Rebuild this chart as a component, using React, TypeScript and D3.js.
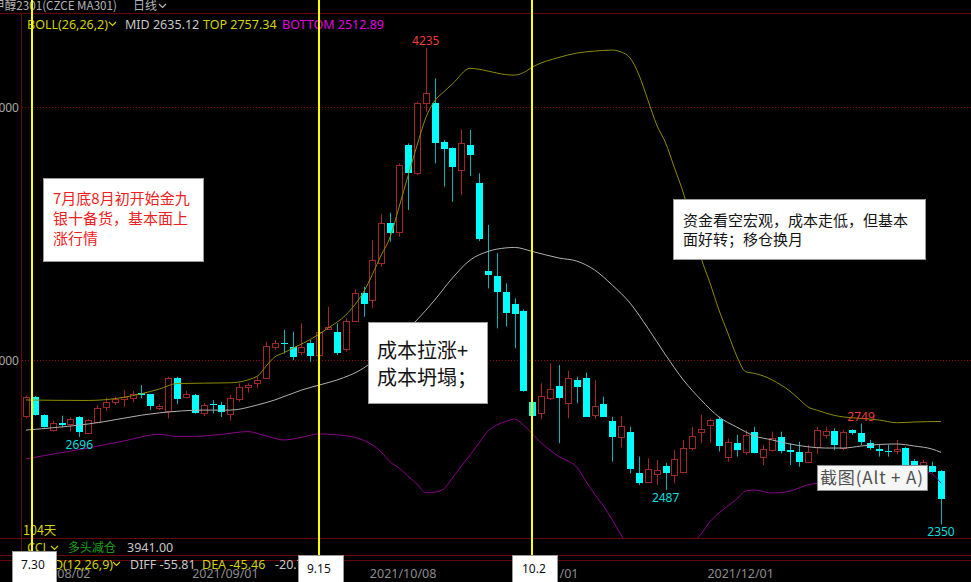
import React from 'react';
import * as d3 from 'd3';

const W = 971;
const H = 582;

// OHLC, one entry per trading day (104 days)
const opens = [2780,2855,2783,2722,2750,2746,2773,2710,2756,2813,2833,2847,2849,2871,2864,2810,2798,2928,2854,2860,2789,2827,2821,2785,2845,2892,2908,2930,3053,3066,3053,3030,3066,3020,3121,3112,3042,3154,3264,3237,3385,3540,3507,3850,3738,4017,4014,3863,3837,3751,3850,3701,3353,3333,3270,3221,3194,2833,2789,2849,2897,2829,2921,2930,2782,2825,2759,2694,2717,2552,2517,2549,2581,2545,2559,2653,2714,2743,2766,2615,2671,2638,2714,2618,2644,2697,2643,2637,2596,2657,2704,2721,2651,2722,2710,2671,2647,2641,2639,2653,2600,2575,2581,2561];
const highs = [2860,2858,2785,2760,2780,2773,2778,2766,2822,2851,2855,2881,2877,2901,2866,2826,2934,2934,2877,2866,2829,2842,2835,2862,2908,2908,2934,3072,3079,3119,3112,3145,3079,3125,3211,3145,3165,3280,3290,3474,3577,3582,3777,3856,4021,4235,4113,3870,3840,3912,3909,3738,3534,3422,3303,3244,3200,2835,2908,2987,2980,2958,2934,2950,2921,2855,2776,2779,2736,2618,2612,2605,2592,2644,2684,2736,2783,2769,2776,2690,2704,2723,2736,2664,2717,2717,2671,2677,2664,2736,2736,2730,2723,2726,2749,2684,2664,2664,2684,2657,2608,2605,2598,2565];
const lows = [2769,2780,2733,2717,2734,2717,2696,2707,2750,2800,2822,2815,2833,2849,2802,2802,2769,2826,2849,2788,2778,2789,2775,2760,2835,2871,2888,2926,3040,3026,3000,3020,2993,3013,3119,3020,3033,3152,3171,3204,3369,3468,3487,3593,3731,3981,3777,3685,3626,3652,3727,3470,3283,3125,3132,3046,2875,2776,2766,2842,2671,2770,2829,2776,2766,2776,2598,2654,2552,2506,2513,2506,2487,2513,2552,2644,2671,2673,2638,2598,2618,2625,2631,2585,2638,2631,2585,2578,2592,2628,2690,2644,2644,2704,2664,2644,2618,2618,2628,2578,2560,2565,2555,2350];
const closes = [2855,2783,2737,2752,2742,2766,2717,2763,2811,2835,2846,2855,2866,2861,2818,2818,2930,2845,2864,2792,2822,2821,2796,2849,2894,2901,2921,3057,3066,3062,3011,3053,3017,3112,3132,3029,3154,3264,3221,3395,3540,3501,3771,3740,4014,4054,3859,3834,3764,3859,3810,3477,3336,3268,3185,3182,2879,2780,2859,2884,2849,2930,2894,2776,2818,2776,2694,2739,2568,2513,2568,2565,2555,2607,2651,2700,2727,2763,2660,2677,2644,2704,2634,2647,2690,2641,2636,2596,2637,2723,2721,2664,2717,2711,2677,2653,2639,2636,2647,2581,2585,2595,2559,2449];

// Bollinger bands: [day index, price]
const bollTop: [number, number][] = [[0,2842],[7,2840],[15,2885],[17,2907],[23,2910],[26,2935],[27,2975],[28,3012],[29,3028],[30,3046],[32,3081],[34,3126],[36,3178],[38,3269],[40,3415],[41,3487],[42,3605],[43,3727],[44,3846],[45,3957],[46,4024],[47,4059],[48,4091],[50,4153],[51,4149],[52,4142],[54,4128],[55,4126],[56,4136],[57,4158],[60,4196],[62,4213],[64,4221],[66,4225],[67,4217],[68,4194],[69,4127],[70,4028],[71,3929],[72,3858],[73,3759],[74,3660],[75,3534],[76,3403],[77,3304],[78,3198],[79,3107],[80,3016],[81,2954],[82,2947],[83,2937],[84,2921],[85,2901],[86,2877],[87,2846],[88,2815],[89,2802],[90,2791],[91,2781],[92,2775],[94,2769],[96,2763],[98,2752],[100,2755],[103,2757]];
const bollMid: [number, number][] = [[0,2723],[7,2747],[15,2791],[20,2802],[23,2802],[26,2822],[28,2842],[31,2881],[33,2901],[35,2921],[38,2968],[40,3024],[42,3091],[44,3158],[46,3237],[48,3324],[50,3395],[52,3429],[54,3443],[55,3445],[57,3429],[60,3403],[62,3391],[64,3356],[66,3296],[68,3225],[70,3126],[72,3020],[74,2921],[76,2842],[78,2775],[80,2735],[82,2700],[84,2684],[86,2668],[88,2657],[90,2652],[92,2652],[94,2660],[96,2666],[98,2668],[100,2660],[102,2648],[103,2635]];
const bollBot: [number, number][] = [[0,2609],[3,2628],[7,2652],[11,2680],[15,2706],[17,2698],[19,2698],[22,2706],[25,2717],[27,2700],[29,2684],[31,2694],[33,2708],[35,2704],[37,2694],[39,2664],[40,2636],[41,2597],[42,2573],[43,2541],[44,2510],[45,2476],[46,2478],[47,2490],[48,2534],[49,2581],[50,2625],[51,2672],[52,2719],[53,2743],[54,2757],[55,2766],[56,2743],[57,2708],[58,2672],[59,2644],[60,2618],[61,2601],[62,2577],[63,2522],[64,2470],[65,2423],[66,2368],[67,2308],[68,2257],[70,2200],[72,2170],[74,2230],[75,2275],[76,2312],[77,2361],[78,2395],[79,2423],[80,2450],[81,2482],[82,2486],[84,2474],[86,2482],[88,2506],[89,2513],[90,2518],[93,2530],[96,2542],[99,2553],[101,2560],[102,2549],[103,2513]];

const gridPrices = [4000, 3000];
const dateIdx = [0, 22, 42, 58, 80];
const dateLabels = ['2021/08/02', '2021/09/01', '2021/10/08', '2021/11/01', '2021/12/01'];

// marked extremes: [day index, price, 'hi' | 'lo']
const extremes: [number, number, string][] = [[45, 4235, 'hi'], [6, 2696, 'lo'], [72, 2487, 'lo'], [94, 2749, 'hi'], [103, 2350, 'lo']];

// vertical event markers
const markerX = [32, 319, 532];
const markerLabels = ['7.30', '9.15', '10.2'];

const note1 = ['7月底8月初开始金九', '银十备货，基本面上', '涨行情'];
const note2 = ['成本拉涨+', '成本坍塌；'];
const note3 = ['资金看空宏观，成本走低，但基本', '面好转；移仓换月'];

const SANS = '"Noto Sans", "Noto Sans CJK SC", sans-serif';
const CJK = '"Noto Sans CJK SC", sans-serif';
const RED = '#a32626';
const CYAN = '#00ffff';
const CYAN_WICK = '#00b8b8';
const GRID = '#6a0808';

function Chevron({ x, y, color }: { x: number; y: number; color: string }) {
  return <path d={`M${x},${y} L${x + 3.5},${y + 3.5} L${x + 7},${y}`} fill="none" stroke={color} strokeWidth={1.2} />;
}

export default function App() {
  const x = d3.scaleLinear().domain([0, 103]).range([26, 941]);
  const y = d3.scaleLinear().domain([3000, 4000]).range([360, 107]);
  const line = d3
    .line<[number, number]>()
    .x((d) => x(d[0]))
    .y((d) => y(d[1]))
    .curve(d3.curveMonotoneX);

  const candles = opens.map((o, i) => {
    const c = closes[i];
    const h = highs[i];
    const l = lows[i];
    const cx = Math.round(x(i));
    const up = c > o;
    const top = Math.round(y(Math.max(o, c)));
    const bot = Math.round(y(Math.min(o, c)));
    const bh = Math.max(bot - top, 1);
    return (
      <g key={i}>
        <line x1={cx + 0.5} x2={cx + 0.5} y1={y(h)} y2={y(l)} stroke={up ? RED : CYAN_WICK} strokeWidth={1} />
        {up ? (
          <rect x={cx - 2.5} y={top + 0.5} width={6} height={bh} fill="#000" stroke={RED} strokeWidth={1} />
        ) : (
          <rect x={cx - 3} y={top} width={7} height={bh} fill={CYAN} />
        )}
      </g>
    );
  });

  return (
    <svg width={W} height={H} style={{ position: 'fixed', left: 0, top: 0, background: '#000' }}>
      <rect x={0} y={0} width={W} height={H} fill="#000" />
      <defs>
        <clipPath id="plot">
          <rect x={22} y={14} width={W - 22} height={524} />
        </clipPath>
      </defs>

      {/* frame lines */}
      <line x1={0} x2={W} y1={13.5} y2={13.5} stroke={GRID} strokeWidth={1} />
      <line x1={21.5} x2={21.5} y1={13} y2={555} stroke={GRID} strokeWidth={1} />
      <line x1={0} x2={W} y1={538.5} y2={538.5} stroke={GRID} strokeWidth={1} />
      <line x1={0} x2={W} y1={555.5} y2={555.5} stroke={GRID} strokeWidth={1} />
      <line x1={0} x2={W} y1={560.5} y2={560.5} stroke={GRID} strokeWidth={1} />

      {gridPrices.map((p) => (
        <g key={p}>
          <line x1={22} x2={W} y1={Math.round(y(p)) + 0.5} y2={Math.round(y(p)) + 0.5} stroke="#8a1010" strokeWidth={1} strokeDasharray="1 2" />
          <text x={19} y={y(p) + 4.5} textAnchor="end" fontFamily={SANS} fontSize={12} fill="#a8a8a8">
            {p}
          </text>
        </g>
      ))}

      <g clipPath="url(#plot)">
        {candles}
        <path d={line(bollTop) || ''} fill="none" stroke="#8c8c00" strokeWidth={1} />
        <path d={line(bollMid) || ''} fill="none" stroke="#b0b0b0" strokeWidth={1} />
        <path d={line(bollBot) || ''} fill="none" stroke="#8c008c" strokeWidth={1} />
      </g>

      {extremes.map(([i, p, k]) => (
        <text
          key={i}
          x={x(i)}
          y={k === 'hi' ? y(p) - 3 : y(p) + 12}
          textAnchor="middle"
          fontFamily={SANS}
          fontSize={12}
          fill={k === 'hi' ? '#f03a3a' : '#00dede'}
        >
          {p}
        </text>
      ))}

      {/* header */}
      <text x={-7} y={10} fontFamily={CJK} fontSize={12} fill="#b4b4b4" textLength={124} lengthAdjust="spacingAndGlyphs">
        甲醇2301(CZCE MA301)
      </text>
      <text x={133} y={10} fontFamily={CJK} fontSize={12} fill="#b4b4b4">
        日线
      </text>
      <Chevron x={159} y={4} color="#b4b4b4" />

      <text x={27} y={29} fontFamily={SANS} fontSize={12.5} fill="#d4d400">
        BOLL(26,26,2)
      </text>
      <Chevron x={109} y={22} color="#d4d400" />
      <text x={125} y={29} fontFamily={SANS} fontSize={12.5} fill="#c8c8c8">
        MID 2635.12
      </text>
      <text x={203} y={29} fontFamily={SANS} fontSize={12.5} fill="#d4d400">
        TOP 2757.34
      </text>
      <text x={282} y={29} fontFamily={SANS} fontSize={12.5} fill="#e000e0">
        BOTTOM 2512.89
      </text>

      {/* lower info rows */}
      <text x={23} y={535} fontFamily={CJK} fontSize={12.5} fill="#d4d400">
        104天
      </text>
      <text x={27} y={552} fontFamily={SANS} fontSize={12.5} fill="#d4d400">
        CCL
      </text>
      <Chevron x={51} y={546} color="#d4d400" />
      <text x={68} y={552} fontFamily={CJK} fontSize={12} fill="#1aa01a">
        多头减仓
      </text>
      <text x={127} y={552} fontFamily={SANS} fontSize={12.5} fill="#c8c8c8">
        3941.00
      </text>

      {dateIdx.map((idx, k) => (
        <text
          key={k}
          x={k === 0 ? 24 : x(idx) + 4}
          y={578}
          textAnchor={k === 0 ? 'start' : 'middle'}
          fontFamily={SANS}
          fontSize={12.5}
          fill="#8c8c8c"
        >
          {dateLabels[k]}
        </text>
      ))}

      <text x={27} y={569} fontFamily={SANS} fontSize={12.5} fill="#d4d400">
        MACD(12,26,9)
      </text>
      <Chevron x={113} y={562} color="#d4d400" />
      <text x={130} y={569} fontFamily={SANS} fontSize={12.5} fill="#c8c8c8">
        DIFF -55.81
      </text>
      <text x={202} y={569} fontFamily={SANS} fontSize={12.5} fill="#d4d400">
        DEA -45.46
      </text>
      <text x={275} y={569} fontFamily={SANS} fontSize={12.5} fill="#c8c8c8">
        -20.70
      </text>

      {/* event markers */}
      {markerX.map((mx, k) => (
        <line key={k} x1={mx} x2={mx} y1={0} y2={558} stroke="#ffff00" strokeWidth={2} />
      ))}

      {/* annotation boxes */}
      <rect x={43.5} y={178.5} width={160} height={83} fill="#fff" stroke="#9a9a9a" />
      {note1.map((t, k) => (
        <text key={k} x={53} y={204 + k * 20} fontFamily={CJK} fontSize={15} fill="#f02020">
          {t}
        </text>
      ))}

      <rect x={368.5} y={322.5} width={119} height={81} fill="#fff" stroke="#9a9a9a" />
      {note2.map((t, k) => (
        <text key={k} x={377} y={358 + k * 27} fontFamily={CJK} fontSize={20} fill="#141414">
          {t}
        </text>
      ))}

      <rect x={673.5} y={199.5} width={252} height={60} fill="#fff" stroke="#9a9a9a" />
      {note3.map((t, k) => (
        <text key={k} x={683} y={226 + k * 19} fontFamily={CJK} fontSize={15} fill="#141414">
          {t}
        </text>
      ))}

      <rect x={817.5} y={465.5} width={110} height={25} fill="#f6f6f6" stroke="#8a8a8a" />
      <text x={820} y={484} fontFamily={CJK} fontSize={17} fill="#505050" textLength={103} lengthAdjust="spacing">
        截图(Alt + A)
      </text>

      {/* marker date tags */}
      <rect x={12.5} y={551.5} width={44} height={36} fill="#fff" stroke="#9a9a9a" />
      <text x={21} y={569} fontFamily={SANS} fontSize={12} fill="#111">
        {markerLabels[0]}
      </text>
      <rect x={298.5} y={555.5} width={45} height={36} fill="#fff" stroke="#9a9a9a" />
      <text x={307} y={573} fontFamily={SANS} fontSize={12} fill="#111">
        {markerLabels[1]}
      </text>
      <rect x={512.5} y={555.5} width={45} height={36} fill="#fff" stroke="#9a9a9a" />
      <text x={522} y={573} fontFamily={SANS} fontSize={12} fill="#111">
        {markerLabels[2]}
      </text>
    </svg>
  );
}
